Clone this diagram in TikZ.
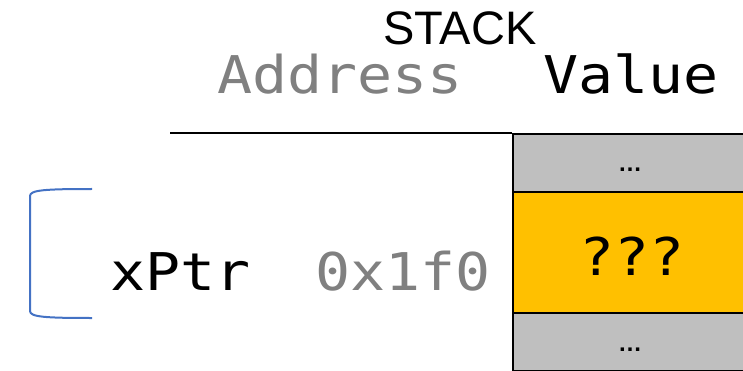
\documentclass[tikz,border=0pt]{standalone}
\usepackage{fontspec}
\setmainfont{Liberation Sans}
\newfontfamily\monofnt[FakeStretch=1.12]{DejaVu Sans Mono}
\definecolor{cellgray}{HTML}{BFBFBF}
\definecolor{cellyellow}{HTML}{FFC000}
\definecolor{addrgray}{HTML}{808080}
\definecolor{brblue}{HTML}{4472C4}
\begin{document}
\begin{tikzpicture}[x=1pt,y=-1pt,
  mono/.style={font=\monofnt\fontsize{52}{52}\selectfont, inner sep=0pt, anchor=base west},
  cell/.style={draw=black, line width=2.2pt, minimum width=250pt, inner sep=0pt, anchor=north west},
  dots/.style={font=\bfseries\fontsize{24}{24}\selectfont, inner sep=0pt}]
\useasboundingbox (0,0) rectangle (743,371);
\clip (0,0) rectangle (743,371);
% headers
\node[inner sep=0pt, anchor=base, font=\fontsize{47}{47}\selectfont] (stack) at (460,45) {STACK};
\node[mono, text=addrgray] (addr) at (217,94) {Address};
\node[mono] (val) at (543,94) {Value};
% cells
\node[cell, fill=cellgray, minimum height=58pt] (c1) at (512,133) {};
\node[cell, fill=cellyellow, minimum height=121pt] (c2) at (512,191) {};
\node[cell, fill=cellgray, minimum height=58pt] (c3) at (512,312) {};
\node[dots] (d1) at (630,170) {…};
\node[dots] (d3) at (630,350) {…};
\node[mono, anchor=base] (q) at (632,275) {???};
% header rule
\coordinate (rl) at (170,133);
\draw[line width=2.2pt] (rl) -- (c1.north west);
% variable row
\node[mono] (xptr) at (110,290) {xPtr};
\node[mono, text=addrgray] (xaddr) at (315,290) {0x1f0};
% bracket
\coordinate (bt) at (92,189);
\coordinate (bb) at (92,318);
\draw[brblue, line width=2pt] (bt) .. controls (45,189) and (30,190) .. (30,196) -- (30,311) .. controls (30,317) and (45,318) .. (bb);
\end{tikzpicture}
\end{document}
